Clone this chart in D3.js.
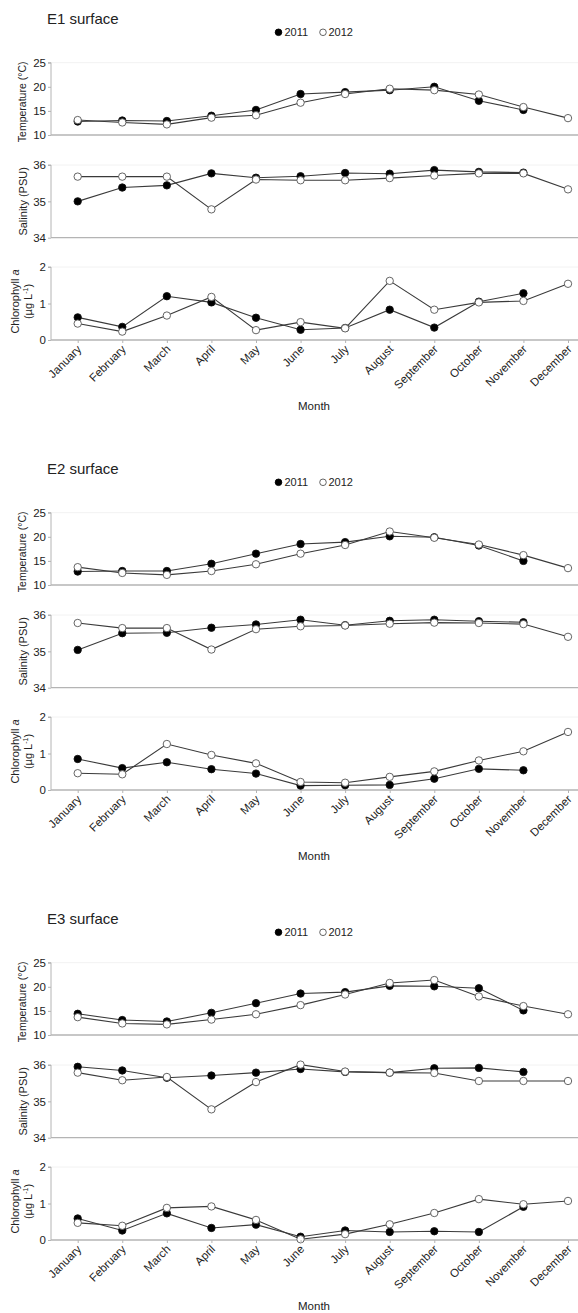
<!DOCTYPE html>
<html>
<head>
<meta charset="utf-8">
<script src="https://cdn.jsdelivr.net/npm/d3@7"></script>
<style>
  html, body { margin: 0; padding: 0; background: #fff; }
  svg { display: block; font-family: "Liberation Sans", Arial, sans-serif; }
</style>
</head>
<body>
<svg id="chart" width="578" height="1313"></svg>
<script>
// Months on the shared x axis
const months = ["January", "February", "March", "April", "May", "June",
  "July", "August", "September", "October", "November", "December"];
const years = ["2011", "2012"];
const stations = ["E1 surface", "E2 surface", "E3 surface"];

// Tick values for each variable
const tempTicks = [10, 15, 20, 25];
const salTicks = [34, 35, 36];
const chlTicks = [0, 1, 2];

// E1 surface
const e1Temp2011 = [12.8, 13.0, 12.9, 14.0, 15.2, 18.5, 18.9, 19.3, 20.0, 17.1, 15.2, null];
const e1Temp2012 = [13.1, 12.6, 12.2, 13.6, 14.1, 16.7, 18.5, 19.6, 19.3, 18.4, 15.8, 13.5];
const e1Sal2011 = [35.0, 35.38, 35.44, 35.77, 35.65, 35.69, 35.78, 35.76, 35.86, 35.81, 35.79, null];
const e1Sal2012 = [35.68, 35.68, 35.68, 34.78, 35.6, 35.58, 35.58, 35.64, 35.71, 35.77, 35.77, 35.33];
const e1Chl2011 = [0.62, 0.36, 1.2, 1.03, 0.61, 0.28, 0.33, 0.83, 0.34, 1.05, 1.28, null];
const e1Chl2012 = [0.45, 0.23, 0.67, 1.18, 0.27, 0.49, 0.32, 1.62, 0.83, 1.03, 1.07, 1.54];

// E2 surface
const e2Temp2011 = [12.8, 12.9, 12.9, 14.4, 16.5, 18.5, 18.9, 20.1, 19.9, 18.2, 15.0, null];
const e2Temp2012 = [13.7, 12.5, 12.1, 12.9, 14.3, 16.5, 18.3, 21.1, 19.8, 18.4, 16.2, 13.5];
const e2Sal2011 = [35.04, 35.5, 35.51, 35.65, 35.74, 35.87, 35.72, 35.84, 35.87, 35.83, 35.8, null];
const e2Sal2012 = [35.78, 35.64, 35.64, 35.05, 35.61, 35.69, 35.71, 35.76, 35.79, 35.78, 35.75, 35.4];
const e2Chl2011 = [0.85, 0.6, 0.76, 0.57, 0.45, 0.12, 0.13, 0.14, 0.31, 0.58, 0.54, null];
const e2Chl2012 = [0.46, 0.43, 1.26, 0.96, 0.73, 0.22, 0.2, 0.36, 0.51, 0.81, 1.06, 1.59];

// E3 surface
const e3Temp2011 = [14.4, 13.1, 12.8, 14.6, 16.6, 18.6, 18.9, 20.2, 20.1, 19.7, 15.1, null];
const e3Temp2012 = [13.7, 12.4, 12.2, 13.2, 14.3, 16.2, 18.4, 20.8, 21.4, 18.0, 16.0, 14.3];
const e3Sal2011 = [35.95, 35.85, 35.65, 35.71, 35.79, 35.89, 35.81, 35.79, 35.91, 35.92, 35.81, null];
const e3Sal2012 = [35.79, 35.58, 35.67, 34.78, 35.53, 36.01, 35.82, 35.79, 35.78, 35.56, 35.56, 35.56];
const e3Chl2011 = [0.59, 0.26, 0.73, 0.33, 0.42, 0.09, 0.26, 0.22, 0.24, 0.22, 0.91, null];
const e3Chl2012 = [0.47, 0.39, 0.88, 0.92, 0.55, 0.02, 0.16, 0.43, 0.74, 1.12, 0.98, 1.07];

const stationData = [
  { temp: [e1Temp2011, e1Temp2012], sal: [e1Sal2011, e1Sal2012], chl: [e1Chl2011, e1Chl2012] },
  { temp: [e2Temp2011, e2Temp2012], sal: [e2Sal2011, e2Sal2012], chl: [e2Chl2011, e2Chl2012] },
  { temp: [e3Temp2011, e3Temp2012], sal: [e3Sal2011, e3Sal2012], chl: [e3Chl2011, e3Chl2012] }
];

const svg = d3.select("#chart");
const axisX = 51, rightEdge = 578;
const lineColor = "#3a3a3a";
const axisColor = "#b4b4b4";
const textColor = "#222";
const blockHeight = 450;

const x = d3.scalePoint().domain(months).range([77.7, 568]);

// vertical layout of the three sub-panels within a block
const panels = [
  { key: "temp", domain: [10, 25], top: 62.7, bottom: 135, ticks: tempTicks },
  { key: "sal", domain: [34, 36], top: 165, bottom: 237.7, ticks: salTicks },
  { key: "chl", domain: [0, 2], top: 267, bottom: 340, ticks: chlTicks }
];

stationData.forEach((st, si) => {
  const g = svg.append("g").attr("transform", `translate(0,${si * blockHeight})`);

  g.append("text").attr("x", 47).attr("y", 24)
    .attr("font-size", 15).attr("fill", textColor).text(stations[si]);

  // legend
  const leg = g.append("g").attr("font-size", 11).attr("fill", textColor);
  [[278.5, 284.5], [323, 328.5]].forEach(([cx, tx], yi) => {
    leg.append("circle").attr("cx", cx).attr("cy", 32.3).attr("r", 3.3)
      .attr("fill", yi === 0 ? "#000" : "#fff")
      .attr("stroke", yi === 0 ? "#000" : "#555").attr("stroke-width", 0.9);
    leg.append("text").attr("x", tx).attr("y", 36).attr("fill", textColor).text(years[yi]);
  });

  panels.forEach(p => {
    const y = d3.scaleLinear().domain(p.domain).range([p.bottom, p.top]);

    // faint top edge of plot area
    g.append("line").attr("x1", axisX).attr("x2", rightEdge)
      .attr("y1", p.top).attr("y2", p.top)
      .attr("stroke", "#f2f2f2").attr("stroke-width", 1);

    // y axis
    const yAxis = d3.axisLeft(y).tickValues(p.ticks).tickSize(3).tickPadding(2).tickFormat(d3.format("d"));
    const ya = g.append("g").attr("transform", `translate(${axisX},0)`).call(yAxis);
    ya.select(".domain").attr("stroke", axisColor).attr("d", `M-3,${p.top}H0V${p.bottom}`);
    ya.selectAll(".tick line").attr("stroke", axisColor);
    ya.selectAll(".tick text").attr("font-size", 11.5).attr("fill", textColor)
      .attr("font-family", "Liberation Sans, Arial, sans-serif");

    // x baseline
    g.append("line").attr("x1", axisX).attr("x2", rightEdge)
      .attr("y1", p.bottom).attr("y2", p.bottom)
      .attr("stroke", axisColor).attr("stroke-width", 1.3);

    const line = d3.line().defined(d => d.v != null)
      .x(d => x(d.m)).y(d => y(d.v));

    st[p.key].forEach((vals, yi) => {
      const pts = vals.map((v, i) => ({ m: months[i], v }));
      g.append("path").datum(pts).attr("d", line)
        .attr("fill", "none").attr("stroke", lineColor).attr("stroke-width", 1.1);
    });
    st[p.key].forEach((vals, yi) => {
      const pts = vals.map((v, i) => ({ m: months[i], v })).filter(d => d.v != null);
      g.append("g").selectAll("circle").data(pts).join("circle")
        .attr("cx", d => x(d.m)).attr("cy", d => y(d.v)).attr("r", 3.7)
        .attr("fill", yi === 0 ? "#000" : "#fff")
        .attr("stroke", yi === 0 ? "#111" : "#555").attr("stroke-width", 0.9);
    });

    // y axis titles
    const midY = (p.top + p.bottom) / 2;
    if (p.key === "temp") {
      g.append("text").attr("transform", `translate(26,${midY + 3}) rotate(-90)`)
        .attr("text-anchor", "middle").attr("font-size", 10.5).attr("fill", textColor)
        .text("Temperature (°C)");
    } else if (p.key === "sal") {
      g.append("text").attr("transform", `translate(27,${midY}) rotate(-90)`)
        .attr("text-anchor", "middle").attr("font-size", 11).attr("fill", textColor)
        .text("Salinity (PSU)");
    } else {
      const t1 = g.append("text").attr("transform", `translate(19,${midY - 2}) rotate(-90)`)
        .attr("text-anchor", "middle").attr("font-size", 11).attr("fill", textColor);
      t1.append("tspan").text("Chlorophyll ");
      t1.append("tspan").attr("font-style", "italic").text("a");
      const t2 = g.append("text").attr("transform", `translate(32,${midY - 2}) rotate(-90)`)
        .attr("text-anchor", "middle").attr("font-size", 11).attr("fill", textColor);
      t2.append("tspan").text("(µg L");
      t2.append("tspan").attr("font-size", 7).attr("dy", -4).text("-1");
      t2.append("tspan").attr("dy", 4).text(")");

      // month ticks and rotated labels
      const xa = g.append("g").attr("transform", `translate(0,${p.bottom})`)
        .call(d3.axisBottom(x).tickSize(3).tickPadding(3));
      xa.select(".domain").remove();
      xa.selectAll(".tick line").attr("stroke", axisColor);
      xa.selectAll(".tick text")
        .attr("font-size", 11.5).attr("fill", textColor)
        .attr("font-family", "Liberation Sans, Arial, sans-serif")
        .attr("text-anchor", "end")
        .attr("x", 0).attr("y", 0).attr("dy", "0.35em")
        .attr("transform", "translate(1,7) rotate(-45)");

      g.append("text").attr("x", 314).attr("y", 410).attr("text-anchor", "middle")
        .attr("font-size", 11.5).attr("fill", textColor).text("Month");
    }
  });
});
</script>
</body>
</html>
